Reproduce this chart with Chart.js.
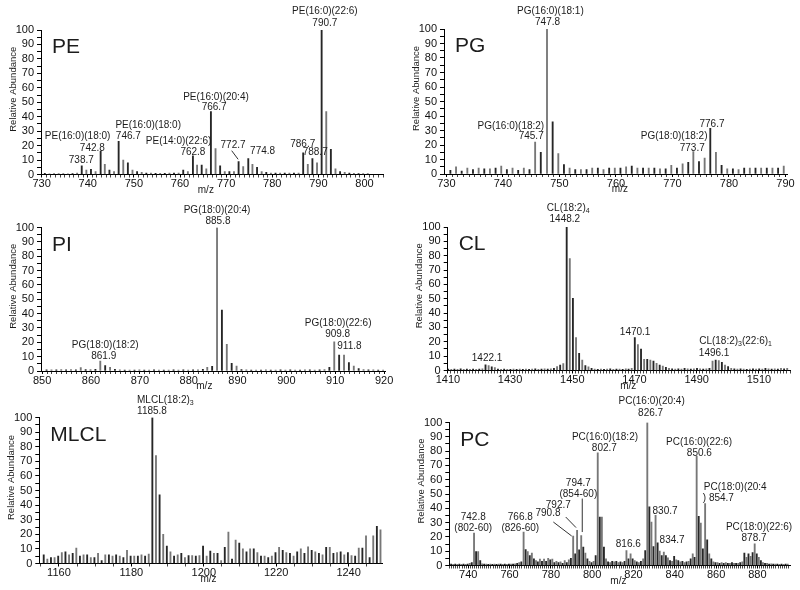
<!DOCTYPE html>
<html>
<head>
<meta charset="utf-8">
<script src="https://cdn.jsdelivr.net/npm/chart.js@4.4.1/dist/chart.umd.min.js"></script>
<style>
  html, body { margin: 0; padding: 0; background: #fff; }
  #wrap { position: relative; width: 800px; height: 590px; overflow: hidden; }
  canvas { position: absolute; }
</style>
</head>
<body>
<div id="wrap">
  <canvas id="pe" width="400" height="195" style="left:0;top:0"></canvas>
  <canvas id="pg" width="400" height="195" style="left:400px;top:0"></canvas>
  <canvas id="pi" width="400" height="195" style="left:0;top:195px"></canvas>
  <canvas id="cl" width="400" height="195" style="left:400px;top:195px"></canvas>
  <canvas id="mlcl" width="400" height="200" style="left:0;top:390px"></canvas>
  <canvas id="pc" width="400" height="200" style="left:400px;top:390px"></canvas>
</div>
<script>
// ---- data (m/z, relative abundance) ----
const yTicks = [0, 10, 20, 30, 40, 50, 60, 70, 80, 90, 100];

const peTicks = [730, 740, 750, 760, 770, 780, 790, 800];
const peMz = [730.7, 731.7, 732.7, 733.7, 734.7, 735.7, 736.7, 737.7, 738.7, 739.7, 740.7, 741.7, 742.8, 743.7, 744.7, 745.7,
  746.7, 747.7, 748.7, 749.7, 750.7, 751.7, 752.7, 753.7, 754.7, 755.7, 756.7, 757.7, 758.7, 759.7, 760.7, 761.7, 762.8,
  763.7, 764.7, 765.7, 766.7, 767.7, 768.7, 769.7, 770.7, 771.7, 772.7, 773.7, 774.8, 775.7, 776.7, 777.7, 778.7, 779.7,
  780.7, 781.7, 782.7, 783.7, 784.7, 785.7, 786.7, 787.7, 788.7, 789.7, 790.7, 791.7, 792.7, 793.7, 794.7, 795.7, 796.7,
  797.7, 798.7, 799.7, 800.7];
const peAb = [0.8, 0.5, 0.5, 0.6, 0.5, 0.5, 0.6, 1, 6, 3, 3.5, 2, 16, 7, 3, 2,
  23, 10, 8, 3, 2, 1.5, 1, 1, 0.8, 0.8, 0.8, 1, 1, 1, 3, 2, 13,
  6.5, 6.5, 4, 43.5, 18, 6, 2, 2, 2, 9, 5.5, 11, 7, 5, 2, 1.5, 1,
  1, 1, 1, 1, 1, 1, 15, 7, 11, 8, 100, 43.5, 17.5, 4, 2, 1.5, 1,
  0.8, 0.6, 0.6, 0.5];

const pgTicks = [730, 740, 750, 760, 770, 780, 790];
const pgMz = [730.7, 731.7, 732.7, 733.7, 734.7, 735.7, 736.7, 737.7, 738.7, 739.7, 740.7, 741.7, 742.7, 743.7, 744.7,
  745.7, 746.7, 747.8, 748.8, 749.8, 750.8, 751.8, 752.8, 753.8, 754.8, 755.8, 756.8, 757.8, 758.8, 759.8, 760.8, 761.8,
  762.8, 763.8, 764.8, 765.8, 766.8, 767.8, 768.8, 769.8, 770.8, 771.8, 772.8, 773.7, 774.7, 775.7, 776.7, 777.7, 778.7,
  779.7, 780.7, 781.7, 782.7, 783.7, 784.7, 785.7, 786.7, 787.7, 788.7, 789.7];
const pgAb = [2.5, 5, 2, 4, 3, 4, 3.5, 3.5, 4, 5.5, 3, 4, 2.5, 4, 3,
  22, 15, 100, 36, 14, 6.5, 4, 3, 3, 3, 4, 4, 3, 4, 4, 4, 5,
  5.5, 4, 4, 4, 4, 3.5, 3.5, 6, 4, 7, 8, 15.5, 8.5, 11, 31.5, 15, 6,
  3.5, 3.5, 3, 4, 4, 4, 4, 4, 4, 4, 5.5];

const piTicks = [850, 860, 870, 880, 890, 900, 910, 920];
const piMz = [850.9, 851.9, 852.9, 853.9, 854.9, 855.9, 856.9, 857.9, 858.9, 859.9, 860.9, 861.9, 862.9, 863.9, 864.9,
  865.9, 866.9, 867.9, 868.9, 869.9, 870.9, 871.9, 872.9, 873.9, 874.9, 875.9, 876.9, 877.9, 878.9, 879.9, 880.9, 881.9,
  882.9, 883.8, 884.8, 885.8, 886.8, 887.8, 888.8, 889.8, 890.8, 891.8, 892.8, 893.8, 894.8, 895.8, 896.8, 897.8, 898.8,
  899.8, 900.8, 901.8, 902.8, 903.8, 904.8, 905.8, 906.8, 907.8, 908.8, 909.8, 910.8, 911.8, 912.8, 913.8, 914.8, 915.8,
  916.8, 917.8, 918.8, 919.8];
const piAb = [0.8, 0.8, 0.8, 1, 0.8, 1, 0.8, 2.3, 1, 1, 1.2, 7, 3.7, 2.6, 1.2,
  0.8, 0.6, 0.6, 0.6, 0.8, 0.6, 0.6, 0.8, 0.6, 0.6, 0.6, 0.8, 0.6, 0.8, 0.6, 0.8, 0.8,
  1.2, 2.6, 3.3, 100, 42.5, 18.6, 5.3, 3.5, 1, 0.8, 0.6, 0.6, 0.6, 0.8, 0.6, 0.6, 0.8,
  0.6, 0.8, 0.6, 0.6, 0.8, 0.8, 0.6, 0.8, 1, 2.5, 20.4, 11.1, 11.1, 5.8, 3.5, 1.7, 1,
  0.8, 0.8, 0.6, 0.6];

const clTicks = [1410, 1430, 1450, 1470, 1490, 1510];
const clMz = [1410.1, 1411.1, 1412.1, 1413.1, 1414.1, 1415.1, 1416.1, 1417.1, 1418.1, 1419.1, 1420.1, 1421.1, 1422.1,
  1423.1, 1424.1, 1425.1, 1426.1, 1427.1, 1428.1, 1429.1, 1430.1, 1431.1, 1432.1, 1433.1, 1434.1, 1435.1, 1436.1, 1437.1,
  1438.1, 1439.1, 1440.1, 1441.1, 1442.1, 1443.1, 1444.1, 1445.1, 1446.1, 1447.1, 1448.2, 1449.2, 1450.2, 1451.2, 1452.2,
  1453.2, 1454.2, 1455.2, 1456.2, 1457.2, 1458.2, 1459.2, 1460.2, 1461.2, 1462.2, 1463.2, 1464.2, 1465.2, 1466.2, 1467.2,
  1468.1, 1469.1, 1470.1, 1471.1, 1472.1, 1473.1, 1474.1, 1475.1, 1476.1, 1477.1, 1478.1, 1479.1, 1480.1, 1481.1, 1482.1,
  1483.1, 1484.1, 1485.1, 1486.1, 1487.1, 1488.1, 1489.1, 1490.1, 1491.1, 1492.1, 1493.1, 1494.1, 1495.1, 1496.1, 1497.1,
  1498.1, 1499.1, 1500.1, 1501.1, 1502.1, 1503.1, 1504.1, 1505.1, 1506.1, 1507.1, 1508.1, 1509.1, 1510.1, 1511.1, 1512.1,
  1513.1, 1514.1, 1515.1, 1516.1, 1517.1, 1518.1, 1519.1];
const clAb = [1, 0.8, 1, 0.8, 1.2, 0.8, 1, 0.8, 1, 0.8, 1, 1.2, 4,
  3.5, 2.5, 2, 1, 0.8, 1, 0.8, 0.8, 1, 0.8, 1, 0.8, 1, 0.8, 1,
  1.2, 0.8, 1, 1.2, 1, 1.2, 1.5, 2.7, 3.8, 4.9, 100, 78, 50.3, 22.9, 12,
  7.3, 3.4, 2.5, 1.5, 1, 0.8, 1, 0.8, 1, 1.2, 0.8, 1, 1, 0.8, 1.2,
  1, 1.5, 23, 18, 15, 7.8, 7.8, 7.3, 6.6, 5, 3.8, 3.1, 2.2, 1.5, 1.2,
  1, 1.2, 1, 1.5, 1.2, 1, 1.2, 1.5, 1.2, 1, 1.2, 1.5, 6.5, 7.3, 7,
  5.7, 3.8, 2.7, 1.5, 1.2, 1, 1.2, 1, 0.8, 1, 1.2, 1, 1.2, 1, 1.5,
  1.2, 1, 1.2, 1, 1.5, 1.2, 1.5];

const mlclTicks = [1160, 1180, 1200, 1220, 1240];
const mlclMz = [1155.8, 1156.8, 1157.8, 1158.8, 1159.8, 1160.8, 1161.8, 1162.8, 1163.8, 1164.8, 1165.8, 1166.8, 1167.8,
  1168.8, 1169.8, 1170.8, 1171.8, 1172.8, 1173.8, 1174.8, 1175.8, 1176.8, 1177.8, 1178.8, 1179.8, 1180.8, 1181.8, 1182.8,
  1183.8, 1184.8, 1185.8, 1186.8, 1187.8, 1188.8, 1189.8, 1190.8, 1191.8, 1192.8, 1193.8, 1194.8, 1195.8, 1196.8, 1197.8,
  1198.8, 1199.8, 1200.8, 1201.8, 1202.8, 1203.8, 1204.8, 1205.8, 1206.8, 1207.8, 1208.8, 1209.8, 1210.8, 1211.8, 1212.8,
  1213.8, 1214.8, 1215.8, 1216.8, 1217.8, 1218.8, 1219.8, 1220.8, 1221.8, 1222.8, 1223.8, 1224.8, 1225.8, 1226.8, 1227.8,
  1228.8, 1229.8, 1230.8, 1231.8, 1232.8, 1233.8, 1234.8, 1235.8, 1236.8, 1237.8, 1238.8, 1239.8, 1240.8, 1241.8, 1242.8,
  1243.8, 1244.8, 1245.8, 1246.8, 1247.8, 1248.8];
const mlclAb = [6, 3, 4, 4, 5, 7.5, 8, 6, 7, 10.5, 5, 6, 6,
  4, 4, 7, 2, 6, 6, 5, 6, 5, 4, 9, 5, 5, 5, 6,
  5, 6.5, 100, 74, 47, 20, 12, 8, 5, 6, 7, 4, 5.5, 5.5, 5,
  5.5, 12, 5, 8.5, 7, 7, 2, 11, 21.5, 3, 16, 14, 10, 8, 10,
  10, 7.5, 5, 5, 4, 5, 7.5, 11, 9, 7.5, 7, 5, 8, 10, 7,
  11.5, 9, 8, 7, 6, 11, 11, 7, 7.5, 8, 6, 7.5, 5.5, 5, 10.5,
  10.5, 19, 4, 19, 25.5, 23];

const pcTicks = [740, 760, 780, 800, 820, 840, 860, 880];
const pcMz = [731.7, 732.7, 733.7, 734.7, 735.7, 736.7, 737.7, 738.7, 739.7, 740.7, 741.7, 742.8, 743.8, 744.8, 745.8,
  746.7, 747.7, 748.7, 749.7, 750.7, 751.7, 752.7, 753.7, 754.7, 755.7, 756.7, 757.7, 758.7, 759.7, 760.7, 761.7, 762.7,
  763.7, 764.7, 765.7, 766.8, 767.8, 768.8, 769.8, 770.8, 771.8, 772.8, 773.7, 774.7, 775.7, 776.7, 777.7, 778.7, 779.7,
  780.7, 781.7, 782.7, 783.7, 784.7, 785.7, 786.7, 787.7, 788.7, 789.7, 790.8, 791.8, 792.7, 793.7, 794.7, 795.7, 796.7,
  797.7, 798.7, 799.7, 800.7, 801.7, 802.7, 803.7, 804.7, 805.7, 806.7, 807.7, 808.7, 809.7, 810.7, 811.7, 812.7, 813.7,
  814.7, 815.7, 816.6, 817.6, 818.6, 819.6, 820.6, 821.6, 822.6, 823.6, 824.7, 825.7, 826.7, 827.7, 828.7, 829.7, 830.7,
  831.7, 832.7, 833.7, 834.7, 835.7, 836.7, 837.7, 838.7, 839.7, 840.7, 841.7, 842.7, 843.7, 844.7, 845.7, 846.7, 847.7,
  848.7, 849.6, 850.6, 851.6, 852.6, 853.6, 854.7, 855.7, 856.7, 857.7, 858.7, 859.7, 860.7, 861.7, 862.7, 863.7, 864.7,
  865.7, 866.7, 867.7, 868.7, 869.7, 870.7, 871.7, 872.7, 873.7, 874.7, 875.7, 876.7, 877.7, 878.7, 879.7, 880.7, 881.7,
  882.7, 883.7, 884.7, 885.7, 886.7, 887.7, 888.7, 889.7, 890.7, 891.7, 892.7, 893.7, 894.7];
const pcAb = [1, 0.8, 1, 0.8, 1, 0.8, 1, 0.8, 1, 1.5, 2, 22.7, 9.8, 9.8, 3.5,
  1.2, 1, 1, 0.8, 1, 0.8, 1, 0.8, 1, 1, 0.8, 1, 0.8, 1, 1, 1, 1.2,
  1.5, 2, 2.5, 23.4, 11.2, 9.8, 7, 8.7, 4.7, 3.5, 2.5, 4.5, 3, 4.5, 3, 5, 4,
  4.5, 2, 3, 2, 2.5, 1.5, 3.5, 2, 4, 5, 20.6, 8.2, 24.6, 11, 21, 12.9, 8.7,
  4.7, 3, 2, 3, 7, 78.8, 33.9, 33.9, 12.9, 4.7, 2.5, 2, 3, 2.5, 3, 2, 2.5,
  2, 3, 10.5, 4.7, 8.2, 4.7, 3.5, 2.5, 2, 3, 4.7, 10.5, 100, 41, 30.4, 13.3, 35.1,
  15.9, 10, 7, 9.4, 7, 5.4, 3.5, 3, 6.5, 4, 3.5, 2.5, 3, 2, 2.5, 3, 4.7,
  8.2, 5.8, 76.5, 34.4, 29.7, 11.7, 43.3, 18, 8.2, 4.7, 2.5, 2, 2, 1.5, 2, 1.5, 2,
  1.5, 1.5, 2, 1.5, 1.5, 1.5, 2, 2.5, 8.7, 5.8, 8.2, 6.5, 9, 15.2, 8.2, 5.8, 3.5,
  2, 1.5, 1.5, 1, 1.2, 1, 1, 1, 0.8, 1, 0.8, 1, 1];

// ---- peak annotations (anchored in data units) ----
const peLabels = [
  { t: 'PE(16:0)(22:6)', x: 791.4, y: 113.1 }, { t: '790.7', x: 791.4, y: 105 },
  { t: 'PE(16:0)(20:4)', x: 767.8, y: 53.8 }, { t: '766.7', x: 767.4, y: 46.2 },
  { t: 'PE(16:0)(18:0)', x: 753.1, y: 33.8 }, { t: '746.7', x: 748.8, y: 26.2 },
  { t: 'PE(16:0)(18:0)', x: 737.8, y: 26.2 }, { t: '742.8', x: 741.0, y: 18.5 },
  { t: 'PE(14:0)(22:6)', x: 759.7, y: 22.7 }, { t: '762.8', x: 762.8, y: 15.1 },
  { t: '738.7', x: 738.6, y: 10 },
  { t: '772.7', x: 771.5, y: 20.4 }, { line: [771.2, 16.5, 772.6, 10.5] },
  { t: '774.8', x: 777.9, y: 15.8 },
  { t: '786.7', x: 786.6, y: 20.9 }, { t: '788.7', x: 789.3, y: 15.1 }
];
const pgLabels = [
  { t: 'PG(16:0)(18:1)', x: 748.4, y: 112.4 }, { t: '747.8', x: 747.9, y: 105 },
  { t: 'PG(16:0)(18:2)', x: 741.4, y: 33.1 }, { t: '745.7', x: 745.0, y: 25.7 },
  { t: '776.7', x: 777.0, y: 34.3 },
  { t: 'PG(18:0)(18:2)', x: 770.3, y: 25.7 }, { t: '773.7', x: 773.5, y: 18.1 }
];
const piLabels = [
  { t: 'PG(18:0)(20:4)', x: 885.8, y: 112.2 }, { t: '885.8', x: 886.0, y: 104.5 },
  { t: 'PG(18:0)(18:2)', x: 862.9, y: 18.1 }, { t: '861.9', x: 862.6, y: 10.5 },
  { t: 'PG(18:0)(22:6)', x: 910.6, y: 33.2 }, { t: '909.8', x: 910.5, y: 25.6 },
  { t: '911.8', x: 912.9, y: 17.4 }
];
const clLabels = [
  { t: 'CL(18:2)_4', x: 1448.7, y: 113.4 }, { t: '1448.2', x: 1447.6, y: 105.6 },
  { t: '1470.1', x: 1470.2, y: 27 },
  { t: '1422.1', x: 1422.6, y: 8.5 },
  { t: 'CL(18:2)_3(22:6)_1', x: 1502.5, y: 20.6 }, { t: '1496.1', x: 1495.6, y: 12 }
];
const mlclLabels = [
  { t: 'MLCL(18:2)_3', x: 1189.4, y: 112 }, { t: '1185.8', x: 1185.7, y: 104 }
];
const pcLabels = [
  { t: 'PC(16:0)(20:4)', x: 828.8, y: 114.6 }, { t: '826.7', x: 828.3, y: 106.5 },
  { t: 'PC(16:0)(18:2)', x: 806.2, y: 89.6 }, { t: '802.7', x: 805.9, y: 81.9 },
  { t: 'PC(16:0)(22:6)', x: 851.8, y: 86.5 }, { t: '850.6', x: 851.9, y: 78.8 },
  { t: 'PC(18:0)(20:4', x: 869.3, y: 54.9 }, { t: ') 854.7', x: 861.1, y: 46.8 },
  { t: '830.7', x: 835.3, y: 38.1 }, { t: '834.7', x: 838.7, y: 17.5 },
  { t: '816.6', x: 817.5, y: 14.7 },
  { t: 'PC(18:0)(22:6)', x: 880.8, y: 26.9 }, { t: '878.7', x: 878.4, y: 19.2 },
  { t: '742.8', x: 742.4, y: 33.9 }, { t: '(802-60)', x: 742.4, y: 25.8 },
  { t: '766.8', x: 765.2, y: 33.9 }, { t: '(826-60)', x: 765.2, y: 25.8 },
  { t: '794.7', x: 793.3, y: 57.3 }, { t: '(854-60)', x: 793.3, y: 49.6 },
  { t: '792.7', x: 783.6, y: 42.1 }, { t: '790.8', x: 778.6, y: 36.3 },
  { line: [781.2, 30.4, 790.1, 20.6] }, { line: [787.2, 33.9, 792.2, 26.5] },
  { line: [795.2, 46.8, 795.2, 23.4] }
];

const FONT = '"Liberation Sans", Arial, Helvetica, sans-serif';
Chart.defaults.font.family = FONT;

function drawRich(ctx, text, cx, cy) {
  // "_d" marks a subscript digit
  const parts = text.split(/_(\d)/);
  const base = '10px ' + FONT, sub = '7px ' + FONT;
  let w = 0;
  parts.forEach((s, i) => { ctx.font = i % 2 ? sub : base; w += ctx.measureText(s).width; });
  let x = cx - w / 2;
  ctx.textAlign = 'left';
  ctx.textBaseline = 'middle';
  parts.forEach((s, i) => {
    ctx.font = i % 2 ? sub : base;
    ctx.fillText(s, x, i % 2 ? cy + 3 : cy);
    x += ctx.measureText(s).width;
  });
}

const annotate = {
  id: 'annotate',
  afterDraw(chart, args, opts) {
    const { ctx, chartArea: a, scales: { x, y } } = chart;
    ctx.save();
    ctx.fillStyle = '#1c1c1c';
    ctx.strokeStyle = '#333';
    ctx.lineWidth = 1;

    // panel name
    ctx.font = '21px ' + FONT;
    ctx.textAlign = 'left';
    ctx.textBaseline = 'alphabetic';
    ctx.fillText(opts.title, a.left + 11, a.top + 23);

    // axis titles
    ctx.font = '9.5px ' + FONT;
    ctx.save();
    ctx.translate(a.left - 28, (a.top + a.bottom) / 2 - 13);
    ctx.rotate(-Math.PI / 2);
    ctx.textAlign = 'center';
    ctx.textBaseline = 'middle';
    ctx.fillText('Relative Abundance', 0, 0);
    ctx.restore();
    ctx.font = '10px ' + FONT;
    ctx.textAlign = 'center';
    ctx.textBaseline = 'middle';
    ctx.fillText('m/z', x.getPixelForValue(opts.mzAt), a.bottom + 15.5);

    // peak labels and leader lines
    opts.labels.forEach(l => {
      if (l.line) {
        ctx.beginPath();
        ctx.moveTo(x.getPixelForValue(l.line[0]), y.getPixelForValue(l.line[1]));
        ctx.lineTo(x.getPixelForValue(l.line[2]), y.getPixelForValue(l.line[3]));
        ctx.stroke();
      } else {
        drawRich(ctx, l.t, x.getPixelForValue(l.x), y.getPixelForValue(l.y));
      }
    });
    ctx.restore();
  }
};

function isTick(list, v) {
  return list.some(t => Math.abs(t - v) < 1e-6);
}

function buildPanel(p) {
  const canvas = document.getElementById(p.id);
  const W = canvas.width, H = canvas.height;
  const points = p.mz.map((m, i) => ({ x: m, y: p.ab[i] }));

  return new Chart(canvas, {
    type: 'bar',
    data: {
      datasets: [{
        data: points,
        backgroundColor: c => (c.dataIndex % 2 ? '#777' : '#262626'),
        barThickness: 1.2,
        borderWidth: 0
      }]
    },
    options: {
      responsive: false,
      animation: false,
      devicePixelRatio: 1,
      layout: { padding: { left: 0, top: p.area.t, right: W - p.area.r, bottom: 0 } },
      plugins: {
        legend: { display: false },
        tooltip: { enabled: false },
        annotate: { title: p.title, labels: p.labels, mzAt: p.mzAt }
      },
      scales: {
        x: {
          type: 'linear',
          min: p.min,
          max: p.max,
          offset: false,
          afterFit: s => { s.height = H - p.area.b; },
          grid: {
            drawOnChartArea: false,
            tickLength: 3,
            offset: false,
            tickColor: c => (c.tick && isTick(p.ticks, c.tick.value) ? '#000' : '#444')
          },
          border: { display: true, color: '#000', width: 1 },
          ticks: {
            stepSize: p.step,
            autoSkip: false,
            includeBounds: false,
            maxRotation: 0,
            minRotation: 0,
            padding: 0,
            color: '#111',
            font: { size: 11, family: '"Liberation Sans Narrow", ' + FONT },
            callback: v => (isTick(p.ticks, v) ? String(Math.round(v)) : '')
          }
        },
        y: {
          min: 0,
          max: 100,
          afterFit: s => { s.width = p.area.l; },
          grid: { drawOnChartArea: false, tickLength: 4, tickColor: '#000' },
          border: { display: true, color: '#000', width: 1 },
          ticks: {
            stepSize: 5,
            autoSkip: false,
            padding: 3,
            color: '#111',
            font: { size: 11 },
            callback: v => (isTick(yTicks, v) ? String(v) : '')
          }
        }
      }
    },
    plugins: [annotate]
  });
}

buildPanel({ id: 'pe', title: 'PE', mz: peMz, ab: peAb, ticks: peTicks, labels: peLabels,
  area: { l: 41, t: 30, r: 383, b: 174.5 }, min: 729.87, max: 804.0, step: 1, mzAt: 765.6 });
buildPanel({ id: 'pg', title: 'PG', mz: pgMz, ab: pgAb, ticks: pgTicks, labels: pgLabels,
  area: { l: 44, t: 29, r: 387.7, b: 174 }, min: 729.57, max: 790.4, step: 1, mzAt: 760.7 });
buildPanel({ id: 'pi', title: 'PI', mz: piMz, ab: piAb, ticks: piTicks, labels: piLabels,
  area: { l: 41, t: 32.5, r: 385, b: 176 }, min: 849.76, max: 920.19, step: 1, mzAt: 883.2 });
buildPanel({ id: 'cl', title: 'CL', mz: clMz, ab: clAb, ticks: clTicks, labels: clLabels,
  area: { l: 47.7, t: 32, r: 390, b: 175.5 }, min: 1409.94, max: 1520.0, step: 1, mzAt: 1468 });
buildPanel({ id: 'mlcl', title: 'MLCL', mz: mlclMz, ab: mlclAb, ticks: mlclTicks, labels: mlclLabels,
  area: { l: 39.3, t: 27.5, r: 382.3, b: 173.5 }, min: 1154.58, max: 1249.3, step: 5, mzAt: 1201.3 });
buildPanel({ id: 'pc', title: 'PC', mz: pcMz, ab: pcAb, ticks: pcTicks, labels: pcLabels,
  area: { l: 49.3, t: 32.5, r: 390, b: 175.5 }, min: 730.82, max: 895.8, step: 1, mzAt: 812.7 });
</script>
</body>
</html>
